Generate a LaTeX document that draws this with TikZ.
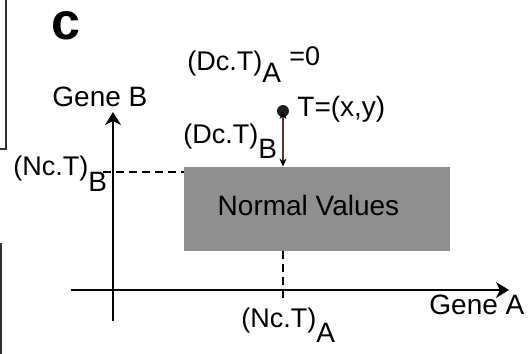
\documentclass[tikz,border=0pt]{standalone}
\usepackage{fontspec}
\setmainfont{Liberation Sans}
\usepackage{tikz}
\usetikzlibrary{arrows.meta, positioning}
\definecolor{BoxGray}{RGB}{143, 143, 143}
\definecolor{FrameGray}{RGB}{50, 50, 50}
\definecolor{DistBrown}{RGB}{100, 50, 45}
\definecolor{DotBlack}{RGB}{30, 30, 30}
\newcommand{\subsz}{\fontsize{14}{16}\selectfont}
\tikzset{
  lbl/.style={inner sep=0pt, anchor=base west, font=\fontsize{13.5}{16}\selectfont},
  biglbl/.style={lbl, font=\fontsize{14}{16}\selectfont},
  panel/.style={lbl, font=\fontsize{26}{28}\selectfont\bfseries},
  normbox/.style={rectangle, fill=BoxGray, draw=none, minimum width=133pt,
    minimum height=42pt, inner sep=0pt},
  axis/.style={-{Stealth[length=6.5pt, width=8pt, inset=2pt]}, line width=0.75pt},
  guide/.style={dash pattern=on 4pt off 2.5pt, line width=0.6pt},
  dist/.style={{Stealth[length=4pt, width=3.5pt, color=black]}-{Stealth[length=4pt, width=3.5pt, color=black]},
    line width=0.6pt, color=DistBrown},
  dotT/.style={circle, fill=DotBlack, minimum size=6pt, inner sep=0pt},
  frame/.style={line width=0.75pt, color=FrameGray},
}
\begin{document}
\begin{tikzpicture}[x=0.5pt, y=-0.5pt]
  \useasboundingbox (0,0) rectangle (532,354);
  % edges of the neighbouring panels
  \draw[frame] (6,0) -- (6,149) -- (0,149);
  \draw[frame] (1,243) -- (1,354);
  % normal region and target point
  \node[normbox] (nv) at (317,209) {};
  \node[biglbl, anchor=base] (nvtext) at (308.5,215) {Normal Values};
  \node[dotT] (T) at (283,111) {};
  % axes
  \coordinate (yfoot) at (113,321);
  \coordinate (ytip) at (113,112);
  \coordinate (xfoot) at (71,290);
  \coordinate (xtip) at (509,290);
  \draw[axis] (yfoot) -- (ytip);
  \draw[axis] (xfoot) -- (xtip);
  % guides
  \coordinate (nbstart) at (103,172);
  \coordinate (naend) at (283,300);
  \draw[guide] (nbstart) -- (nv.west |- nbstart);
  \draw[guide] (nv.south -| T.center) -- (naend);
  \draw[dist] (T.center) -- (nv.north -| T.center);
  % labels
  \node[panel] (pc) at (51,39) {c};
  \node[lbl] (dca) at (187,70) {(Dc.T)\raisebox{-6pt}{\subsz A}};
  \node[lbl] (dcazero) at (289,65) {=0};
  \node[biglbl] (geneb) at (52,106) {Gene B};
  \node[lbl] (dcb) at (183,143) {(Dc.T)\raisebox{-7.5pt}{\subsz B}};
  \node[biglbl] (tlbl) at (297,116) {T=(x,y)};
  \node[lbl] (ncb) at (13,175) {(Nc.T)\raisebox{-8pt}{\subsz B}};
  \node[lbl] (nca) at (241,327) {(Nc.T)\raisebox{-7.5pt}{\subsz A}};
  \node[biglbl] (genea) at (429,314) {Gene A};
\end{tikzpicture}
\end{document}
